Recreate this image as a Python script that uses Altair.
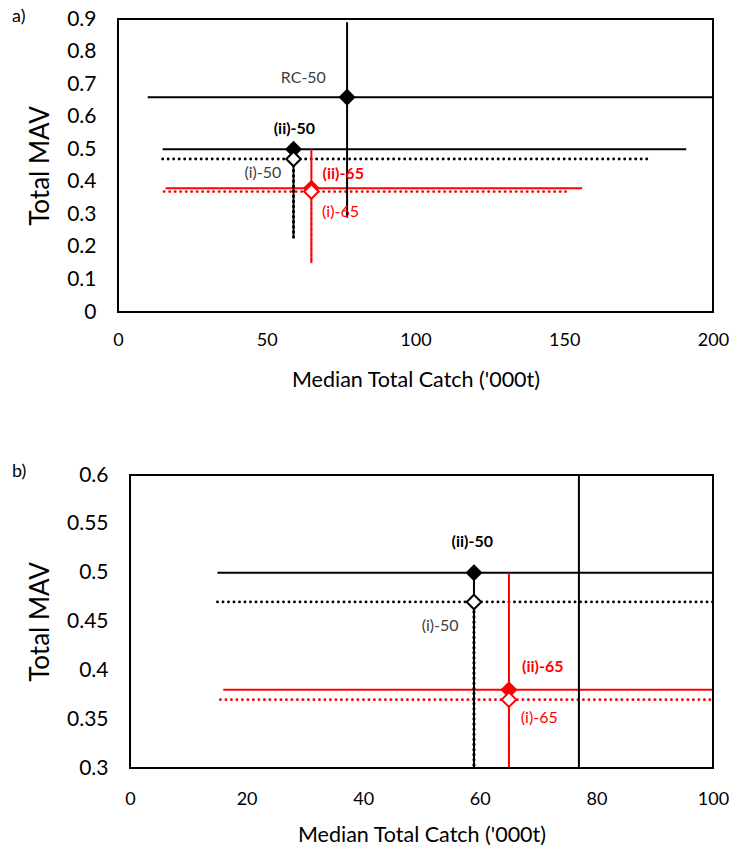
import altair as alt
import pandas as pd

FONT = "Lato"

# ---- data ----
names = ["RC-50", "(ii)-50", "(i)-50", "(ii)-65", "(i)-65"]
catch = [77, 59, 59, 65, 65]
mav = [0.66, 0.50, 0.47, 0.38, 0.37]
catch_lo = [10, 15, 15, 16, 15.5]
catch_hi = [230, 191, 179, 156, 152]
mav_lo = [0.29, 0.23, 0.23, 0.15, 0.16]
mav_hi = [0.89, 0.50, 0.47, 0.50, 0.37]
line_style = ["solid", "solid", "dotted", "solid", "dotted"]
series_color = ["black", "black", "black", "red", "red"]
label_bold = [False, True, False, True, False]

# label anchor positions (data units) for each panel
lab_a_x = [62.3, 59.3, 48.7, 75.7, 74.8]
lab_a_y = [0.72, 0.562, 0.427, 0.424, 0.307]
lab_b_x = [None, 58.7, 53.2, 70.8, 70.2]
lab_b_y = [None, 0.531, 0.445, 0.403, 0.351]

xdom_a, ydom_a = [0, 200], [0, 0.9]
xdom_b, ydom_b = [0, 100], [0.3, 0.6]
xticks_a = [0, 50, 100, 150, 200]
yticks_a = [0, 0.1, 0.2, 0.3, 0.4, 0.5, 0.6, 0.7, 0.8, 0.9]
xticks_b = [0, 20, 40, 60, 80, 100]
yticks_b = [0.3, 0.35, 0.4, 0.45, 0.5, 0.55, 0.6]

df = pd.DataFrame({
    "name": names, "catch": catch, "mav": mav,
    "clo": catch_lo, "chi": catch_hi, "mlo": mav_lo, "mhi": mav_hi,
    "style": line_style, "col": series_color, "bold": label_bold,
})
df["vdot_w"] = [3.2 if c == "black" else 2.0 for c in series_color]
df["lab_col"] = ["#404040" if (c == "black" and not b) else ("black" if c == "black" else "red")
                 for c, b in zip(series_color, label_bold)]

W = 595
H = 293


def panel(xdom, ydom, xt, yt, lx, ly, tag, xstart, ylp, xlp, xtp, tag_y):
    d = df.copy()
    d["lx"] = lx
    d["ly"] = ly
    base = alt.Chart(d)
    xs = alt.Scale(domain=xdom, nice=False, zero=False, range=[xstart, W])
    ys = alt.Scale(domain=ydom, nice=False, zero=False)
    xa = alt.Axis(values=xt, title="Median Total Catch ('000t)", grid=False,
                  ticks=False, domain=False, labelFontSize=18, labelFont=FONT,
                  labelColor="black", labelPadding=xlp, titleFont=FONT,
                  titleFontSize=21.5, titleFontWeight="normal", titleColor="black",
                  titlePadding=xtp, labelFlush=False, titleX=(xstart + W) / 2)
    ya = alt.Axis(values=yt, format="~g", title="Total MAV", grid=False,
                  ticks=False, domain=False, labelFontSize=21, labelFont=FONT,
                  labelColor="black", labelPadding=ylp, titleFont=FONT,
                  titleFontSize=26, titleFontWeight="normal", titleColor="black",
                  titlePadding=13, labelFlush=False)

    def X(f):
        return alt.X(f, scale=xs, axis=xa)

    def Y(f):
        return alt.Y(f, scale=ys, axis=ya)

    colS = alt.Color("col:N", scale=None)

    frame = alt.Chart(pd.DataFrame({"x0": [xdom[0]], "x1": [xdom[1]],
                                    "y0": [ydom[0]], "y1": [ydom[1]]})).mark_rect(
        filled=False, stroke="black", strokeWidth=2).encode(
        x=X("x0:Q"), x2="x1:Q", y=Y("y0:Q"), y2="y1:Q")
    h_dot = base.transform_filter("datum.style == 'dotted'").mark_rule(
        clip=True, strokeWidth=2.8, strokeDash=[0.1, 5.4], strokeCap="round").encode(
        x=X("clo:Q"), x2="chi:Q", y=Y("mav:Q"), color=colS)
    h_sol = base.transform_filter("datum.style == 'solid'").mark_rule(
        clip=True, strokeWidth=2).encode(
        x=X("clo:Q"), x2="chi:Q", y=Y("mav:Q"), color=colS)
    v_dot = base.transform_filter("datum.style == 'dotted'").mark_rule(
        clip=True, strokeDash=[0.1, 5.0], strokeCap="round").encode(
        x=X("catch:Q"), y=Y("mlo:Q"), y2="mhi:Q", color=colS,
        strokeWidth=alt.StrokeWidth("vdot_w:Q", scale=None))
    v_sol = base.transform_filter("datum.style == 'solid'").mark_rule(
        clip=True, strokeWidth=2).encode(
        x=X("catch:Q"), y=Y("mlo:Q"), y2="mhi:Q", color=colS)
    pt_fill = base.transform_filter("datum.style == 'solid'").mark_point(
        clip=True, shape="diamond", filled=True, size=290, opacity=1).encode(
        x=X("catch:Q"), y=Y("mav:Q"), color=colS)
    pt_open = base.transform_filter("datum.style == 'dotted'").mark_point(
        clip=True, shape="diamond", filled=False, size=210, strokeWidth=2, opacity=1,
        fill="white").encode(x=X("catch:Q"), y=Y("mav:Q"),
                             stroke=alt.Stroke("col:N", scale=None))
    t_norm = base.transform_filter("!datum.bold && isValid(datum.lx)").mark_text(
        font=FONT, fontSize=16, clip=True).encode(
        x=X("lx:Q"), y=Y("ly:Q"), text="name:N",
        color=alt.Color("lab_col:N", scale=None))
    t_bold = base.transform_filter("datum.bold && isValid(datum.lx)").mark_text(
        font=FONT, fontSize=16, fontWeight="bold", clip=True).encode(
        x=X("lx:Q"), y=Y("ly:Q"), text="name:N",
        color=alt.Color("lab_col:N", scale=None))
    tag_t = alt.Chart(pd.DataFrame({"t": [tag]})).mark_text(
        font=FONT, fontSize=18, align="left", baseline="middle", color="black").encode(
        text="t:N", x=alt.value(-106), y=alt.value(tag_y))
    return alt.layer(h_dot, h_sol, v_dot, v_sol, pt_fill, pt_open, frame, t_norm, t_bold,
                     tag_t).properties(width=W, height=H)


pa = panel(xdom_a, ydom_a, xticks_a, yticks_a, lab_a_x, lab_a_y, "a)", 0, 22, 19, 20, -2)
pb = panel(xdom_b, ydom_b, xticks_b, yticks_b, lab_b_x, lab_b_y, "b)", 12, 10, 22, 16, -3)

chart = alt.vconcat(pa, pb, spacing=72).properties(
    padding={"left": 4, "top": 0, "right": 0, "bottom": 0}, background="white"
).configure_view(strokeWidth=0)

chart.save("out.html", embed_options={"renderer": "svg", "actions": False})
